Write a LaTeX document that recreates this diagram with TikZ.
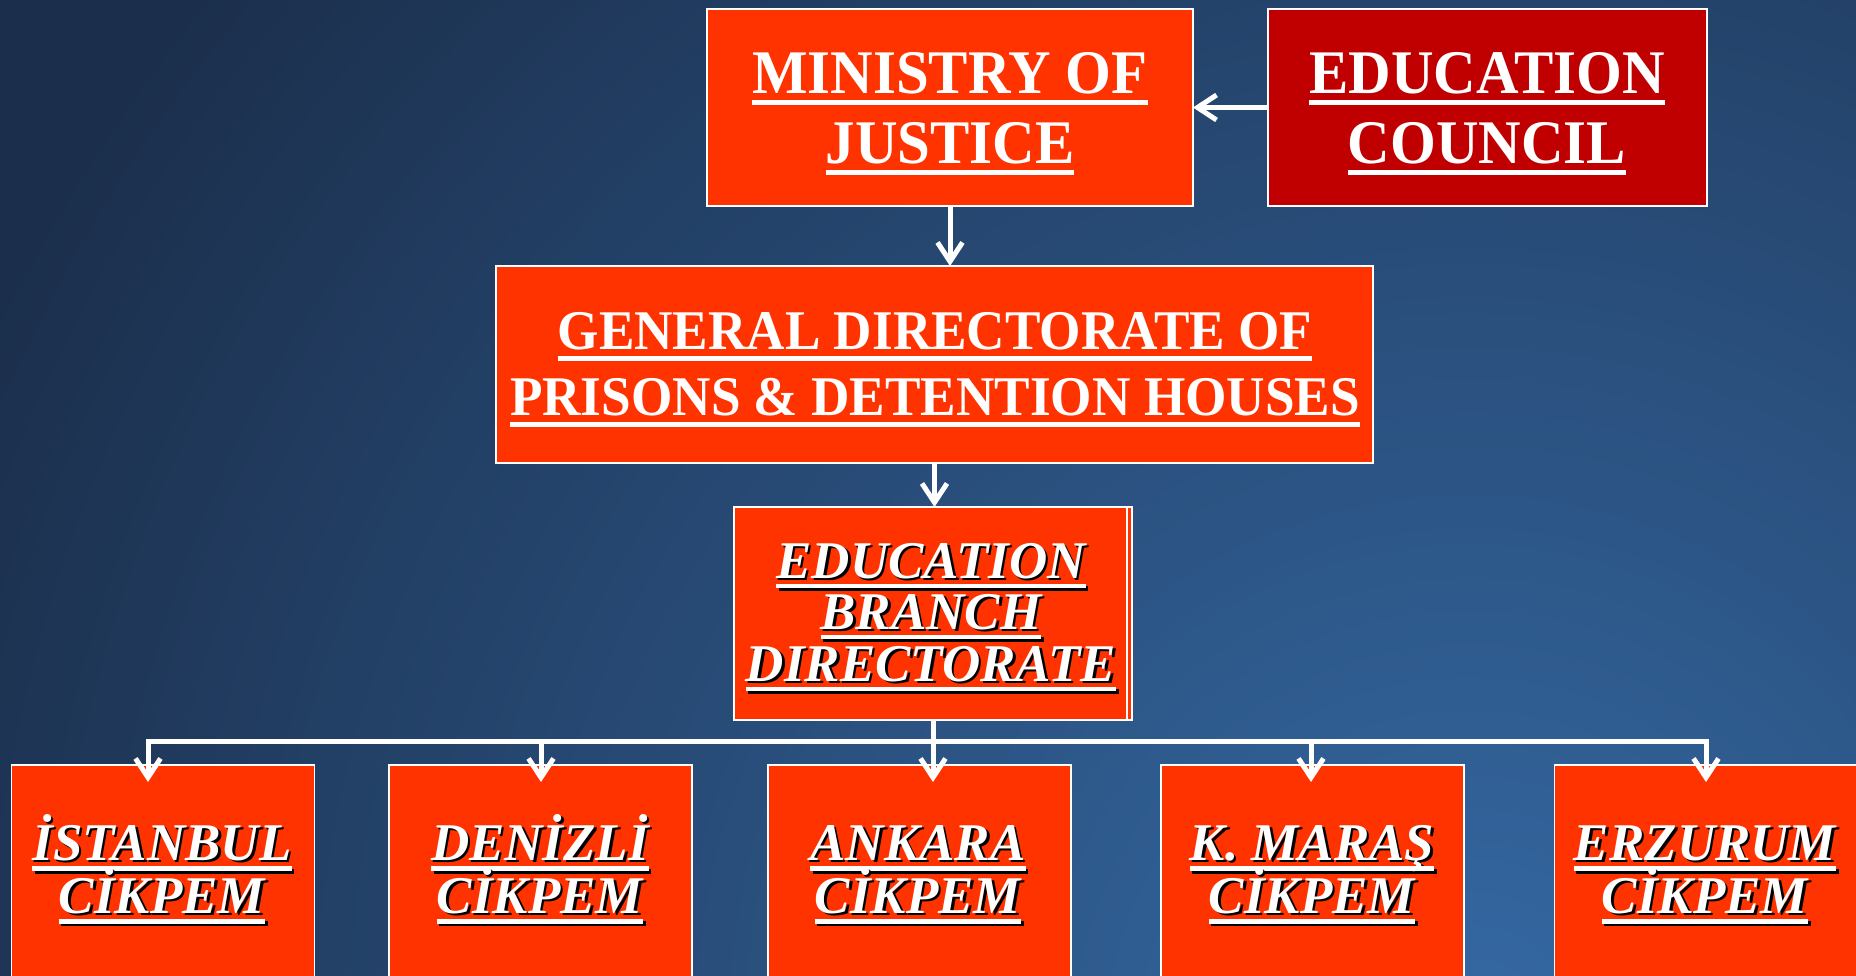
\documentclass[tikz,border=0pt]{standalone}
\usepackage{fontspec}
\setmainfont{Liberation Serif}
\newfontfamily\narrowserif[FakeStretch=0.95]{Liberation Serif}
\usetikzlibrary{arrows.meta,calc}

\definecolor{bgdark}{HTML}{1B2F4C}
\definecolor{bglight}{HTML}{3569A4}
\definecolor{boxorange}{HTML}{FF3300}
\definecolor{boxred}{HTML}{C00000}

% underline with a given depth (bottom of rule below baseline) and thickness
\newcommand\ulined[3]{\setbox0=\hbox{#3}\rlap{\rule[-#1]{\wd0}{#2}}\box0}
% white text with a black drop shadow
\newcommand\shadowed[1]{\rlap{\kern2.5pt\raisebox{-2.5pt}{\color{black}#1}}#1}

\begin{document}
\begin{tikzpicture}[x=1pt,y=-1pt,
  box/.style={draw=white, line width=1.8pt, fill=boxorange, inner sep=0pt, outer sep=0pt},
  cellbox/.style={box, minimum width=303pt, minimum height=240pt, anchor=north},
  upper/.style={text=white, inner sep=0pt, anchor=base,
    font=\narrowserif\bfseries\fontsize{62}{70}\selectfont},
  middle/.style={upper, font=\narrowserif\bfseries\fontsize{56}{64}\selectfont},
  branch/.style={text=white, inner sep=0pt, anchor=base,
    font=\bfseries\itshape\fontsize{53}{53}\selectfont},
  conn/.style={draw=white, line width=5pt},
  arr/.style={conn, -{Straight Barb[length=19pt,width=25pt]}}]

\useasboundingbox (0,0) rectangle (1856,976);
\clip (0,0) rectangle (1856,976);

% background: navy with a soft glow rising from the lower right
\fill[bgdark] (0,0) rectangle (1856,976);
\foreach \i in {0,...,99}{
  \pgfmathsetmacro\rad{1650-16.5*\i}
  \pgfmathtruncatemacro\pct{round(\i)}
  \fill[bglight!\pct!bgdark] (1470,1040) circle (\rad);
}

% top row
\node[box, minimum width=486pt, minimum height=197pt] (ministry) at (950,107.5) {};
\node[box, fill=boxred, minimum width=439pt, minimum height=197pt] (council) at (1487.5,107.5) {};
\node[upper] (ministry-a) at (950,94) {\ulined{11pt}{5pt}{MINISTRY OF}};
\node[upper] (ministry-b) at (950,164) {\ulined{11pt}{5pt}{JUSTICE}};
\node[upper] (council-a) at (1487,94) {\ulined{11pt}{5pt}{EDUCATION}};
\node[upper] (council-b) at (1487,164) {\ulined{11pt}{5pt}{COUNCIL}};

% general directorate
\node[box, minimum width=877pt, minimum height=197pt] (gendir) at (934.5,364.5) {};
\node[middle] (gendir-a) at (935,350) {\ulined{11.5pt}{5pt}{GENERAL DIRECTORATE OF}};
\node[middle] (gendir-b) at (935,415) {\ulined{11.5pt}{5pt}{PRISONS \& DETENTION HOUSES}};

% education branch directorate
\node[box, minimum width=398pt, minimum height=213pt] (edb) at (933,613.5) {};
\draw[white, line width=1.5pt] ([xshift=-5pt,yshift=-1pt]edb.north east) -- ([xshift=-5pt,yshift=1pt]edb.south east);
\node[branch] (edb-a) at (931,578) {\shadowed{\ulined{10pt}{4.5pt}{EDUCATION}}};
\node[branch] (edb-b) at (931,629) {\shadowed{\ulined{10pt}{4.5pt}{BRANCH}}};
\node[branch] (edb-c) at (931,681) {\shadowed{\ulined{10pt}{4.5pt}{DIRECTORATE}}};

% centres
\node[cellbox] (istanbul) at (163,765) {};
\node[cellbox] (denizli) at (540.5,765) {};
\node[cellbox] (ankara) at (919.5,765) {};
\node[cellbox] (kmaras) at (1312.75,765) {};
\node[cellbox] (erzurum) at (1706,765) {};

\node[branch] (istanbul-a) at (162,860) {\shadowed{\ulined{11pt}{4.7pt}{İSTANBUL}}};
\node[branch] (istanbul-b) at (162,913) {\shadowed{\ulined{10.5pt}{4.7pt}{CİKPEM}}};
\node[branch] (denizli-a) at (540,860) {\shadowed{\ulined{11pt}{4.7pt}{DENİZLİ}}};
\node[branch] (denizli-b) at (540,913) {\shadowed{\ulined{10.5pt}{4.7pt}{CİKPEM}}};
\node[branch] (ankara-a) at (918,860) {\shadowed{\ulined{11pt}{4.7pt}{ANKARA}}};
\node[branch] (ankara-b) at (918,913) {\shadowed{\ulined{10.5pt}{4.7pt}{CİKPEM}}};
\node[branch] (kmaras-a) at (1312,860) {\shadowed{\ulined{11pt}{4.7pt}{K. MARAŞ}}};
\node[branch] (kmaras-b) at (1312,913) {\shadowed{\ulined{10.5pt}{4.7pt}{CİKPEM}}};
\node[branch] (erzurum-a) at (1705,860) {\shadowed{\ulined{11pt}{4.7pt}{ERZURUM}}};
\node[branch] (erzurum-b) at (1705,913) {\shadowed{\ulined{10.5pt}{4.7pt}{CİKPEM}}};

% connectors
\draw[arr] (council.west) -- (ministry.east);
\draw[arr] (ministry.south) -- (ministry.south |- gendir.north);
\draw[arr] (gendir.south) -- (gendir.south |- edb.north);

\coordinate (d1) at (148,741);
\coordinate (d2) at (541,741);
\coordinate (d3) at (edb.south |- d1);
\coordinate (d4) at (1311,741);
\coordinate (d5) at (1706,741);

\draw[conn] (edb.south) -- (d3);
\draw[conn, line cap=rect] (d1) -- (d5);
\draw[arr] (d1) -- ($(d1 |- istanbul.north)+(0,17)$);
\draw[arr] (d2) -- ($(d2 |- denizli.north)+(0,17)$);
\draw[arr] (d3) -- ($(d3 |- ankara.north)+(0,17)$);
\draw[arr] (d4) -- ($(d4 |- kmaras.north)+(0,17)$);
\draw[arr] (d5) -- ($(d5 |- erzurum.north)+(0,17)$);
\end{tikzpicture}
\end{document}
